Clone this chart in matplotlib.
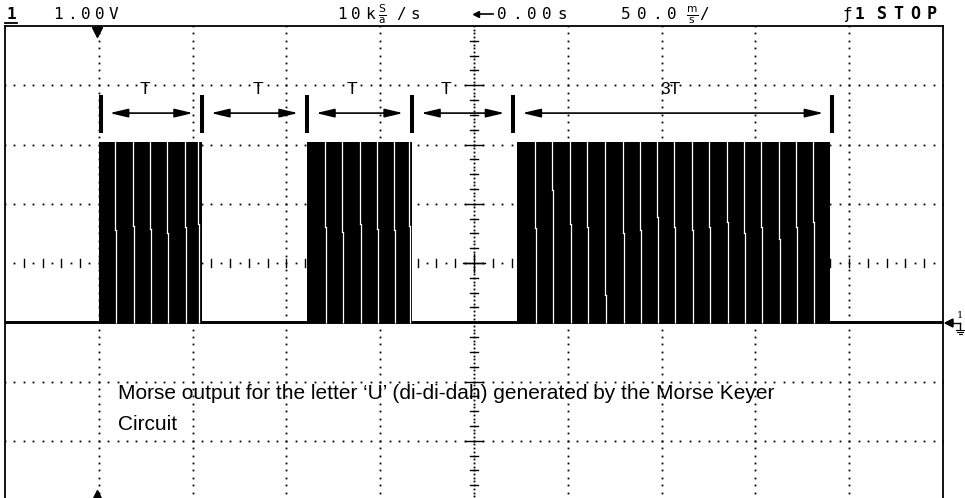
import matplotlib
matplotlib.use("Agg")
import matplotlib.pyplot as plt
from matplotlib.patches import FancyArrowPatch, Polygon
import numpy as np

plt.rcParams["mathtext.fontset"] = "dejavusans"

# ---------------- data (time in ms, level in volts) ----------------
burst_start_ms = [-200.0, -89.0, 23.0]
burst_end_ms = [-145.0, -33.0, 190.0]
high_v = 3.05
low_v = 0.0

gap_ms = [
    [-191.4, -181.8, -172.7, -163.6, -154.0, -147.1],
    [-79.4, -70.4, -60.8, -51.7, -42.6, -34.6],
    [32.5, 41.6, 51.2, 60.2, 69.8, 79.4, 88.5, 97.5, 106.6, 116.2,
     125.3, 134.9, 143.9, 153.0, 162.6, 171.6, 180.7],
]
gap_jog_v = [
    [1.55, 1.62, 1.58, 1.50, 1.60, 1.65],
    [1.60, 1.52, 1.66, 1.58, 1.55, 1.62],
    [1.59, 2.23, 1.65, 1.61, 0.46, 1.50, 1.55, 1.77, 1.61, 1.55,
     1.60, 1.70, 1.50, 1.60, 1.40, 1.60, 1.70],
]

mark_ms = [-199.0, -145.0, -89.0, -33.0, 21.0, 191.0]
mark_labels = ["T", "T", "T", "T", "3T"]
label_ms = [-175.5, -115.0, -65.0, -15.0, 104.5]

caption_lines = ["Morse output for the letter \u2018U\u2019 (di-di-dah) generated by the Morse Keyer",
                 "Circuit"]

header_volts = "1.00V"
header_rate = "10k"
header_delay = "0.00s"
header_tdiv = "50.0"

# ---------------- figure ----------------
W, H = 965, 498
fig = plt.figure(figsize=(W / 100, H / 100), dpi=100)
fig.patch.set_facecolor("white")

# scope screen: x -250..250 ms (10 div), y -3..5 V (8 div), ground at div -1
ax = fig.add_axes([5 / W, -2 / H, 938 / W, 474 / H])
ax.set_xlim(-250, 250)
ax.set_ylim(-3, 5)
ax.set_xticks([])
ax.set_yticks([])
for s in ["left", "top", "right"]:
    ax.spines[s].set_linewidth(1.3)
    ax.spines[s].set_color("black")
ax.spines["bottom"].set_visible(False)

dot_kw = dict(ls="none", marker="s", ms=1.3, mew=0, color="black", zorder=1)

# horizontal dotted graticule lines
xs_dots = np.arange(-250, 250.01, 5.0)
for v in [-2, -1, 0, 2, 3, 4]:
    ax.plot(xs_dots, np.full_like(xs_dots, v), **dot_kw)
# vertical dotted graticule lines
ys_dots = np.arange(-3, 5.01, 0.125)
for t in [-200, -150, -100, -50, 50, 100, 150, 200]:
    ax.plot(np.full_like(ys_dots, t), ys_dots, **dot_kw)

# centre horizontal axis with ticks
for t in np.arange(-240, 241, 10):
    if t == 0:
        continue
    ax.plot([t, t], [0.94, 1.06], color="black", lw=1.0, zorder=1)
odd = np.arange(-245, 246, 10.0)
ax.plot(odd, np.full_like(odd, 1.0), **dot_kw)
# centre vertical axis with ticks
cy = np.arange(-3, 5.01, 0.0625)
ax.plot(np.zeros_like(cy), cy, **dot_kw)
for v in np.arange(-2.75, 4.9, 0.25):
    hw = 4.8 if abs(v - round(v)) < 1e-6 else 2.1
    ax.plot([-hw, hw], [v, v], color="black", lw=1.0, zorder=1)
ax.plot([-5.9, 5.9], [1, 1], color="black", lw=1.0, zorder=1)
ax.plot([0, 0], [0.85, 1.15], color="black", lw=1.0, zorder=1)

# baseline
ax.plot([-250, 250], [low_v, low_v], color="black", lw=2.1, zorder=2,
        solid_capstyle="butt")

# bursts
for b0, b1, gaps, jogs in zip(burst_start_ms, burst_end_ms, gap_ms, gap_jog_v):
    ax.fill_between([b0, b1], low_v, high_v, color="black", lw=0, zorder=3)
    for g, j in zip(gaps, jogs):
        ax.plot([g, g], [j, high_v + 0.01], color="white", lw=0.9, zorder=4,
                solid_capstyle="butt")
        ax.plot([g + 0.6, g + 0.6], [low_v - 0.02, j], color="white", lw=0.9,
                zorder=4, solid_capstyle="butt")
        ax.plot([g, g + 0.6], [j, j], color="white", lw=0.9, zorder=4)

# T markers
bar_lo, bar_hi, arrow_v, lab_v = 3.19, 3.83, 3.53, 3.86
for m in mark_ms:
    ax.plot([m, m], [bar_lo, bar_hi], color="black", lw=2.9, zorder=5,
            solid_capstyle="butt")
for a, b in zip(mark_ms[:-1], mark_ms[1:]):
    arr = FancyArrowPatch((a + 4.8, arrow_v), (b - 4.8, arrow_v),
                          arrowstyle="<|-|>,head_length=1.1,head_width=0.26",
                          mutation_scale=10, lw=1.2, color="black",
                          shrinkA=0, shrinkB=0, zorder=5)
    ax.add_patch(arr)
for lx, lt in zip(label_ms, mark_labels):
    ax.text(lx, lab_v, lt, ha="center", va="baseline", fontsize=12.5,
            family="Liberation Sans", zorder=6)

# caption
ax.text(-190.0, (322 - 399) / 59.25, caption_lines[0], ha="left", va="baseline",
        fontsize=15, family="Liberation Sans", zorder=6)
ax.text(-190.0, (322 - 430) / 59.25, caption_lines[1], ha="left", va="baseline",
        fontsize=15, family="Liberation Sans", zorder=6)

# trigger-position markers
ax.plot([-201], [4.90], marker="v", ms=7, color="black", clip_on=False, zorder=6)
ax.plot([-201], [-2.92], marker="^", ms=7, color="black", clip_on=False, zorder=6)

# ---------------- overlay in pixel coordinates ----------------
ov = fig.add_axes([0, 0, 1, 1], zorder=10)
ov.set_xlim(0, W)
ov.set_ylim(H, 0)
ov.axis("off")
ov.patch.set_alpha(0)

mono = dict(family="DejaVu Sans Mono", fontsize=11.5, va="baseline", ha="left",
            color="black")


def spaced(x0, y, s, pitch, **kw):
    opts = dict(mono)
    opts.update(kw)
    for i, c in enumerate(s):
        ov.text(x0 + i * pitch, y, c, **opts)


base = 19
ov.text(6, base, "1", fontweight="bold", **mono)
ov.plot([5, 17], [22.5, 22.5], color="black", lw=1.3)
spaced(53, base, header_volts, 14.0)
spaced(337, base, header_rate, 14.0)
ov.text(378, base + 1, r"$\frac{\mathrm{S}}{\mathrm{a}}$", family="DejaVu Sans",
        fontsize=11, va="baseline", ha="left")
spaced(396, base, "/s", 14.5)
ov.plot([476], [13.5], marker="<", ms=4.5, color="black")
ov.plot([478, 493], [13.5, 13.5], color="black", lw=1.2)
spaced(497, base, header_delay, 15.0)
spaced(621, base, header_tdiv, 15.5)
ov.text(686, base + 1, r"$\frac{\mathrm{m}}{\mathrm{s}}$", family="DejaVu Sans",
        fontsize=11, va="baseline", ha="left")
ov.text(699, base, "/", **mono)
ov.text(843, base, "\u0192", **mono)
ov.text(855, base, "1", fontweight="bold", **mono)
spaced(877, base, "STOP", 16.5, fontweight="bold", fontsize=12)

# ground reference marker at right edge
gy = 323
ov.add_patch(Polygon([[945, gy], [953, gy - 4], [953, gy + 4]], closed=True,
                     color="black"))
ov.plot([953, 960], [gy, gy], color="black", lw=1.0)
ov.plot([960, 960], [gy, gy + 6], color="black", lw=1.0)
for k, w in enumerate([4, 3, 1.5]):
    ov.plot([960 - w, 960 + w], [gy + 7 + 2 * k, gy + 7 + 2 * k],
            color="black", lw=0.8)
ov.text(957, gy - 5, "1", family="DejaVu Serif", fontsize=7, va="baseline")

fig.savefig("out.png", dpi=100, facecolor="white")
